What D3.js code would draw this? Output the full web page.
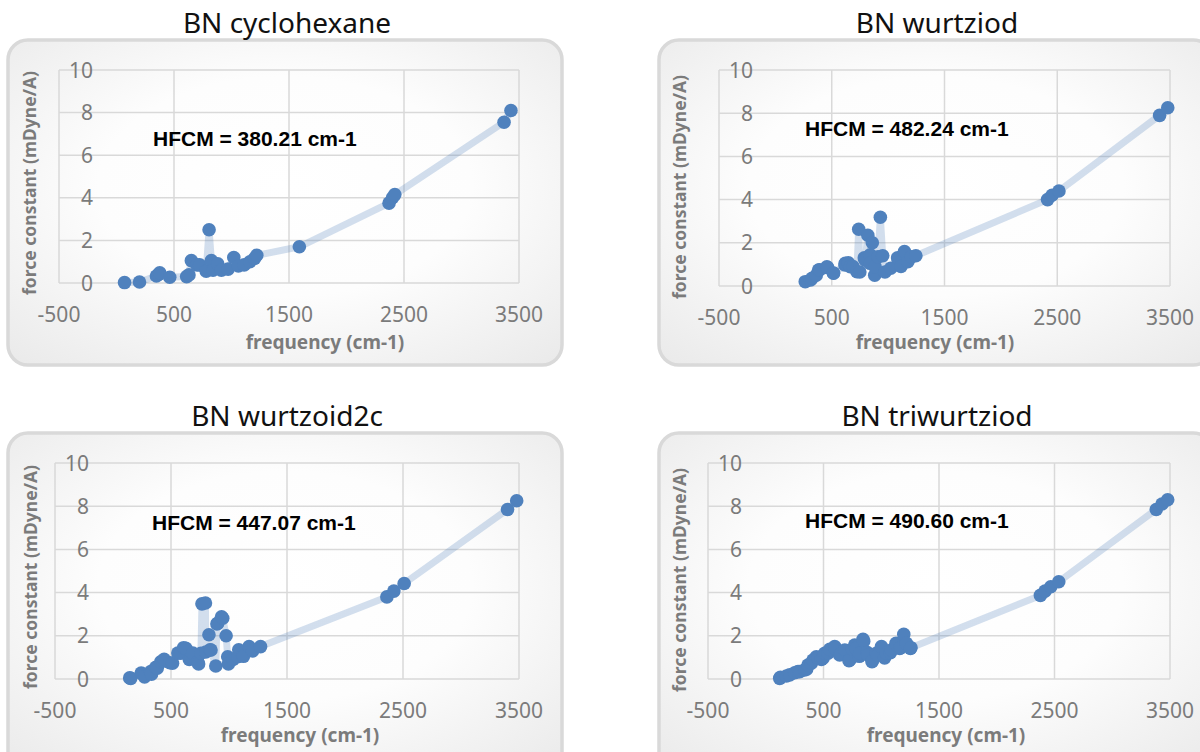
<!DOCTYPE html>
<html>
<head>
<meta charset="utf-8">
<script src="https://cdn.jsdelivr.net/npm/d3@7"></script>
<style>
  body { margin: 0; background: #fff; }
</style>
</head>
<body>
<div id="chart"></div>
<script>
// ---- data ----
var xTicks = [-500, 500, 1500, 2500, 3500];
var yTicks = [0, 2, 4, 6, 8, 10];
var titles = ["BN cyclohexane", "BN wurtziod", "BN wurtzoid2c", "BN triwurtziod"];
var hfcmLabels = ["HFCM = 380.21 cm-1", "HFCM = 482.24 cm-1", "HFCM = 447.07 cm-1", "HFCM = 490.60 cm-1"];

var cycloFreq = [70, 200, 347, 365, 376, 463, 610, 630, 651, 700, 723, 780, 805, 825, 839, 880, 912, 970, 1020, 1060, 1110, 1160, 1200, 1220, 1590, 2370, 2400, 2420, 3370, 3430];
var cycloK    = [0.02, 0.05, 0.33, 0.4, 0.48, 0.27, 0.3, 0.38, 1.05, 0.85, 0.85, 0.55, 2.5, 1.05, 0.6, 0.9, 0.6, 0.65, 1.2, 0.8, 0.85, 1.0, 1.15, 1.3, 1.7, 3.75, 4.0, 4.15, 7.55, 8.1];

var wurtzFreq = [265, 312, 325, 363, 383, 393, 457, 464, 515, 516, 617, 620, 647, 664, 688, 723, 739, 749, 789, 797, 820, 841, 860, 840, 881, 885, 911, 931, 952, 972, 1023, 1084, 1114, 1145, 1175, 1206, 1246, 2414, 2454, 2515, 3408, 3480];
var wurtzK    = [0.2, 0.28, 0.36, 0.5, 0.74, 0.75, 0.89, 0.85, 0.6, 0.59, 0.97, 1.05, 1.07, 0.89, 0.9, 0.66, 2.63, 0.65, 1.3, 1.2, 2.35, 1.44, 2.0, 1.05, 0.5, 0.89, 1.35, 3.18, 1.4, 0.65, 0.82, 1.3, 0.9, 1.6, 1.12, 1.35, 1.4, 4.0, 4.2, 4.4, 7.9, 8.25];

var wurtz2cFreq = [144, 153, 243, 253, 272, 325, 332, 369, 381, 412, 431, 441, 490, 513, 559, 585, 609, 628, 658, 672, 688, 730, 738, 758, 767, 797, 800, 827, 837, 845, 886, 896, 903, 936, 946, 975, 989, 995, 1035, 1076, 1084, 1124, 1173, 1203, 1272, 2361, 2421, 2510, 3401, 3480];
var wurtz2cK    = [0.05, 0.03, 0.28, 0.23, 0.1, 0.34, 0.22, 0.54, 0.5, 0.8, 0.83, 0.91, 0.75, 0.73, 1.2, 1.19, 1.45, 1.42, 0.9, 0.96, 1.2, 0.8, 0.7, 1.19, 3.48, 3.52, 1.25, 2.05, 1.35, 1.34, 0.6, 2.55, 2.58, 2.88, 2.81, 2.0, 1.03, 0.7, 0.9, 1.03, 1.35, 1.05, 1.5, 1.3, 1.5, 3.8, 4.07, 4.42, 7.85, 8.25];

var triFreq = [121, 127, 179, 207, 251, 279, 294, 337, 354, 366, 395, 409, 438, 453, 482, 496, 510, 539, 554, 597, 602, 640, 651, 684, 721, 727, 751, 770, 781, 810, 814, 842, 848, 880, 885, 920, 924, 958, 969, 1002, 1029, 1045, 1079, 1088, 1128, 1132, 1160, 1168, 1195, 1218, 1253, 1257, 2378, 2418, 2468, 2537, 3381, 3431, 3480];
var triK    = [0.03, 0.08, 0.14, 0.19, 0.29, 0.34, 0.34, 0.42, 0.45, 0.65, 0.73, 0.88, 1.03, 0.98, 0.91, 0.96, 1.19, 1.19, 1.37, 1.5, 1.42, 1.11, 1.15, 1.34, 0.85, 0.88, 1.38, 1.57, 1.42, 1.05, 1.19, 1.84, 1.75, 1.22, 1.11, 0.8, 0.85, 1.19, 1.1, 1.5, 0.98, 1.19, 1.22, 1.34, 1.65, 1.6, 1.42, 1.45, 2.07, 1.65, 1.42, 1.45, 3.87, 4.07, 4.27, 4.5, 7.85, 8.1, 8.3];

// ---- layout ----
var panels = [
  { freq: cycloFreq, k: cycloK, frame: [8, 40, 554, 325], plot: [59, 519, 70, 283],
    titleX: 287, titleY: 33, xt: [325, 343], yt: [30, 183], hf: [153, 138] },
  { freq: wurtzFreq, k: wurtzK, frame: [659, 40, 554, 325], plot: [719, 1170, 70, 286],
    titleX: 937, titleY: 33, xt: [935, 343], yt: [680, 187], hf: [805, 128] },
  { freq: wurtz2cFreq, k: wurtz2cK, frame: [8, 433, 554, 340], plot: [55, 519, 463, 679],
    titleX: 287, titleY: 426, xt: [300, 736], yt: [31, 577], hf: [152, 522] },
  { freq: triFreq, k: triK, frame: [659, 433, 554, 340], plot: [708, 1170, 463, 679],
    titleX: 937, titleY: 426, xt: [946, 736], yt: [680, 580], hf: [805, 520] }
];

var svg = d3.select("#chart").append("svg")
    .attr("width", 1200)
    .attr("height", 752);

var defs = svg.append("defs");
var grad = defs.append("radialGradient")
    .attr("id", "frameFill")
    .attr("cx", "50%").attr("cy", "45%").attr("r", "75%");
grad.append("stop").attr("offset", "0%").attr("stop-color", "#ffffff");
grad.append("stop").attr("offset", "45%").attr("stop-color", "#fdfdfd");
grad.append("stop").attr("offset", "100%").attr("stop-color", "#e9e9e9");

var gray = "#7b7b7b";
var dotColor = "#4f81bd";

panels.forEach(function(p, i) {
    var g = svg.append("g");

    // rounded frame
    g.append("rect")
        .attr("x", p.frame[0]).attr("y", p.frame[1])
        .attr("width", p.frame[2]).attr("height", p.frame[3])
        .attr("rx", 20).attr("ry", 20)
        .style("fill", "url(#frameFill)")
        .style("stroke", "#d9d9d9")
        .style("stroke-width", 3.5);

    // title above the frame
    g.append("text")
        .attr("x", p.titleX).attr("y", p.titleY)
        .attr("text-anchor", "middle")
        .style("font-family", "'Noto Sans', sans-serif")
        .style("font-size", "28px")
        .style("fill", "#111")
        .text(titles[i]);

    var x = d3.scaleLinear().domain([-500, 3500]).range([p.plot[0], p.plot[1]]);
    var y = d3.scaleLinear().domain([0, 10]).range([p.plot[3], p.plot[2]]);

    // grid
    g.selectAll(".hgrid").data(yTicks).enter().append("line")
        .attr("x1", x(-500)).attr("x2", x(3500))
        .attr("y1", function(d) { return y(d); })
        .attr("y2", function(d) { return y(d); })
        .style("stroke", "#d9d9d9").style("stroke-width", 1.5);
    g.selectAll(".vgrid").data(xTicks).enter().append("line")
        .attr("y1", y(0)).attr("y2", y(10))
        .attr("x1", function(d) { return x(d); })
        .attr("x2", function(d) { return x(d); })
        .style("stroke", "#d9d9d9").style("stroke-width", 1.5);

    // tick labels
    g.selectAll(".ylab").data(yTicks).enter().append("text")
        .attr("x", p.plot[0] + 34)
        .attr("y", function(d) { return y(d); })
        .attr("text-anchor", "end")
        .attr("dy", "0.36em")
        .style("font-family", "'Noto Sans', sans-serif")
        .style("font-size", "21px")
        .style("fill", gray)
        .text(function(d) { return d; });
    g.selectAll(".xlab").data(xTicks).enter().append("text")
        .attr("x", function(d) { return x(d); })
        .attr("y", y(0) + 31)
        .attr("text-anchor", "middle")
        .attr("dy", "0.36em")
        .style("font-family", "'Noto Sans', sans-serif")
        .style("font-size", "21px")
        .style("fill", gray)
        .text(function(d) { return d; });

    // axis titles
    g.append("text")
        .attr("x", p.xt[0]).attr("y", p.xt[1])
        .attr("text-anchor", "middle").attr("dy", "0.32em")
        .style("font-family", "'Noto Sans', sans-serif")
        .style("font-weight", "bold")
        .style("font-size", "19px")
        .style("fill", gray)
        .text("frequency (cm-1)");
    g.append("text")
        .attr("transform", "translate(" + p.yt[0] + "," + p.yt[1] + ") rotate(-90)")
        .attr("text-anchor", "middle").attr("dy", "0.32em")
        .style("font-family", "'Noto Sans', sans-serif")
        .style("font-weight", "bold")
        .style("font-size", "17.5px")
        .style("fill", gray)
        .text("force constant (mDyne/A)");

    // data
    var pts = p.freq.map(function(f, j) { return { f: f, k: p.k[j] }; });
    var line = d3.line()
        .x(function(d) { return x(d.f); })
        .y(function(d) { return y(d.k); });
    g.append("path")
        .datum(pts)
        .attr("d", line)
        .style("fill", "none")
        .style("stroke", dotColor)
        .style("stroke-opacity", 0.25)
        .style("stroke-width", 7)
        .style("stroke-linejoin", "round")
        .style("stroke-linecap", "round");
    g.selectAll(".dot").data(pts).enter().append("circle")
        .attr("cx", function(d) { return x(d.f); })
        .attr("cy", function(d) { return y(d.k); })
        .attr("r", 6.8)
        .style("fill", dotColor);

    // HFCM annotation
    g.append("text")
        .attr("x", p.hf[0]).attr("y", p.hf[1])
        .attr("dy", "0.36em")
        .style("font-family", "'Liberation Sans', Arial, sans-serif")
        .style("font-weight", "bold")
        .style("font-size", "21px")
        .style("fill", "#000")
        .text(hfcmLabels[i]);
});
</script>
</body>
</html>
